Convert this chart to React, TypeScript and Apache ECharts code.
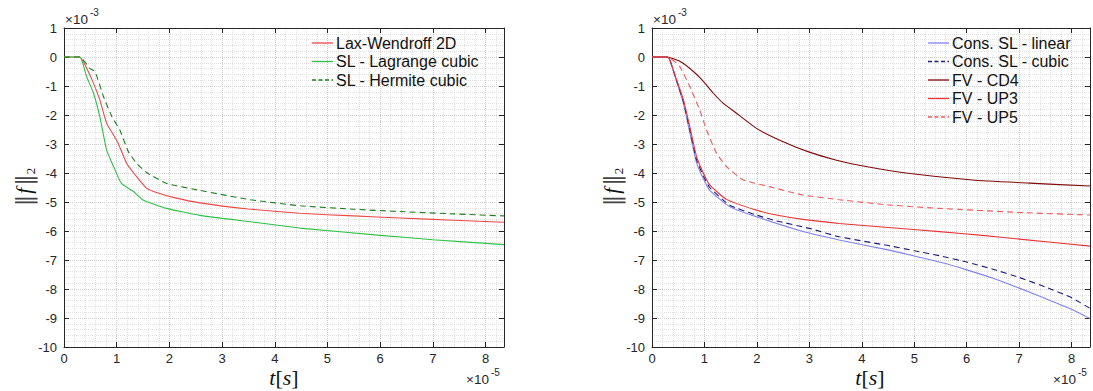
import React, { useEffect, useRef } from 'react';
import * as echarts from 'echarts';

// x in units of 1e-5 s, y in units of 1e-3
const T_MAX = 8.35;
const Y_MIN = -10;
const Y_MAX = 1;

// Left panel
const lwT = [0, 0.3, 0.4, 0.56, 0.68, 0.81, 0.94, 1.03, 1.19, 1.38, 1.57, 1.8, 2.07, 2.58, 3.5, 4.48, 5.5, 6.38, 7.4, 8.35];
const lwV = [0, 0, -0.28, -0.91, -1.48, -2.29, -2.69, -2.98, -3.67, -4.13, -4.53, -4.7, -4.84, -5.03, -5.24, -5.39, -5.48, -5.55, -5.63, -5.7];

const lagT = [0, 0.3, 0.43, 0.56, 0.68, 0.81, 0.97, 1.09, 1.32, 1.5, 1.95, 2.58, 3.53, 4.48, 6.0, 7.0, 8.35];
const lagV = [0, 0, -0.68, -1.25, -2.06, -3.21, -3.9, -4.36, -4.64, -4.93, -5.22, -5.46, -5.68, -5.9, -6.15, -6.3, -6.47];

const herT = [0, 0.3, 0.49, 0.59, 0.75, 0.91, 1.06, 1.22, 1.38, 1.57, 1.95, 2.58, 3.53, 4.48, 5.5, 6.38, 7.4, 8.35];
const herV = [0, 0, -0.39, -0.51, -1.37, -2.06, -2.52, -3.26, -3.67, -3.99, -4.36, -4.6, -4.92, -5.13, -5.25, -5.33, -5.41, -5.48];

// Right panel
const cslT = [0, 0.3, 0.34, 0.47, 0.6, 0.72, 0.85, 0.98, 1.1, 1.48, 1.99, 2.88, 3.57, 4.5, 5.0, 5.5, 6.0, 6.5, 7.0, 7.5, 8.0, 8.35];
const cslV = [0, 0, -0.1, -0.85, -1.6, -2.6, -3.65, -4.2, -4.6, -5.16, -5.51, -6.02, -6.31, -6.65, -6.86, -7.08, -7.34, -7.63, -7.97, -8.33, -8.7, -9.02];

const cscT = [0, 0.3, 0.34, 0.47, 0.6, 0.72, 0.85, 0.98, 1.1, 1.48, 1.99, 2.37, 3.0, 3.57, 4.5, 5.0, 5.5, 6.0, 6.5, 7.0, 7.5, 8.0, 8.35];
const cscV = [0, 0, -0.1, -0.82, -1.55, -2.5, -3.55, -4.1, -4.5, -5.11, -5.45, -5.65, -5.91, -6.2, -6.5, -6.68, -6.86, -7.07, -7.32, -7.6, -7.93, -8.3, -8.67];

const cd4T = [0, 0.28, 0.53, 0.79, 0.98, 1.17, 1.36, 1.61, 2.0, 2.5, 3.0, 3.5, 4.0, 4.84, 6.11, 7.2, 8.35];
const cd4V = [0, 0, -0.15, -0.5, -0.84, -1.25, -1.6, -1.94, -2.47, -2.92, -3.28, -3.55, -3.75, -4.0, -4.24, -4.35, -4.45];

const up3T = [0, 0.3, 0.34, 0.47, 0.6, 0.72, 0.85, 0.98, 1.1, 1.42, 1.99, 2.37, 2.88, 3.57, 4.5, 5.48, 6.3, 7.0, 8.35];
const up3V = [0, 0, -0.1, -0.79, -1.48, -2.4, -3.44, -4.01, -4.41, -4.91, -5.28, -5.45, -5.6, -5.74, -5.88, -6.02, -6.15, -6.28, -6.52];

const up5T = [0, 0.3, 0.53, 0.72, 0.91, 1.04, 1.23, 1.42, 1.74, 2.24, 2.88, 3.57, 4.5, 5.48, 7.0, 8.35];
const up5V = [0, 0, -0.33, -1.02, -1.83, -2.52, -3.32, -3.78, -4.24, -4.47, -4.76, -4.92, -5.1, -5.22, -5.36, -5.45];

const leftNames = ['Lax-Wendroff 2D', 'SL - Lagrange cubic', 'SL - Hermite cubic'];
const rightNames = ['Cons. SL - linear', 'Cons. SL - cubic', 'FV - CD4', 'FV - UP3', 'FV - UP5'];

const AX = '#262626';
const SANS = '"Liberation Sans", Arial, Helvetica, sans-serif';
const SERIF = '"Liberation Serif", "DejaVu Serif", serif';
const DASH = [6, 4];

const pair = (t: number[], v: number[]) => t.map((x, i) => [x, v[i]]);

const majorGrid = { show: true, lineStyle: { color: '#cfcfcf', type: 'dotted', width: 1 } };
const minorGrid = { show: true, lineStyle: { color: '#e2e2e2', type: 'dotted', width: 1 } };

function xAxis(gridIndex: number, position: 'bottom' | 'top') {
  const main = position === 'bottom';
  return {
    type: 'value',
    gridIndex,
    position,
    min: 0,
    max: T_MAX,
    interval: 1,
    axisLine: { show: true, onZero: false, lineStyle: { color: AX, width: 1 } },
    axisTick: { show: true, inside: true, length: 5, lineStyle: { color: AX } },
    axisLabel: {
      show: main,
      margin: 5,
      color: AX,
      fontSize: 13,
      fontFamily: SANS,
      formatter: (v: number) => (Math.abs(v - Math.round(v)) < 1e-9 ? String(Math.round(v)) : ''),
    },
    splitLine: main ? majorGrid : { show: false },
    minorTick: { show: false, splitNumber: 5 },
    minorSplitLine: main ? minorGrid : { show: false },
  };
}

function yAxis(gridIndex: number, position: 'left' | 'right') {
  const main = position === 'left';
  return {
    type: 'value',
    gridIndex,
    position,
    min: Y_MIN,
    max: Y_MAX,
    interval: 1,
    axisLine: { show: true, onZero: false, lineStyle: { color: AX, width: 1 } },
    axisTick: { show: true, inside: true, length: 5, lineStyle: { color: AX } },
    axisLabel: { show: main, margin: 7, color: AX, fontSize: 13, fontFamily: SANS },
    splitLine: main ? majorGrid : { show: false },
    minorTick: { show: false, splitNumber: 5 },
    minorSplitLine: main ? minorGrid : { show: false },
  };
}

const styles: Record<string, { color: string; dashed: boolean }> = {
  'Lax-Wendroff 2D': { color: '#ee4848', dashed: false },
  'SL - Lagrange cubic': { color: '#2fbf4a', dashed: false },
  'SL - Hermite cubic': { color: '#1e7d1e', dashed: true },
  'Cons. SL - linear': { color: '#8080f0', dashed: false },
  'Cons. SL - cubic': { color: '#1c1c7c', dashed: true },
  'FV - CD4': { color: '#7f0a0a', dashed: false },
  'FV - UP3': { color: '#e83434', dashed: false },
  'FV - UP5': { color: '#f05a5a', dashed: true },
};

function line(name: string, t: number[], v: number[], axisIdx: number) {
  const s = styles[name];
  return {
    type: 'line',
    name,
    xAxisIndex: axisIdx,
    yAxisIndex: axisIdx,
    data: pair(t, v),
    symbol: 'none',
    smooth: 0.15,
    lineStyle: { color: s.color, width: 1.1, type: s.dashed ? DASH : 'solid' },
    itemStyle: { color: s.color },
    z: 3,
  };
}

function legendGraphic(names: string[], x0: number, y0: number) {
  const els: any[] = [];
  names.forEach((n, i) => {
    const s = styles[n];
    const y = y0 + i * 18.5;
    els.push({
      type: 'line',
      shape: { x1: x0, y1: y, x2: x0 + 21, y2: y },
      style: { stroke: s.color, lineWidth: 1.3, lineDash: s.dashed ? [4, 2.5] : null },
      z: 10,
    });
    els.push({
      type: 'text',
      x: x0 + 24,
      y,
      style: { text: n, fontSize: 16, fontFamily: SANS, fill: '#111', verticalAlign: 'middle', align: 'left' },
      z: 10,
    });
  });
  return els;
}

function multiplier(x: number, y: number, exp: string) {
  return [
    { type: 'text', left: x, top: y - 8, style: { text: '×10', fontSize: 13.5, fontFamily: SANS, fill: AX } },
    { type: 'text', left: x + 25, top: y - 13, style: { text: exp, fontSize: 10, fontFamily: SANS, fill: AX } },
  ];
}

function yLabel(x: number, y: number) {
  return {
    type: 'text',
    x,
    y,
    rotation: Math.PI / 2,
    style: {
      text: '{n|‖}{f|f}{n|‖}{s|2}',
      align: 'center',
      verticalAlign: 'middle',
      fill: '#111',
      rich: {
        n: { fontSize: 23, fontFamily: '"DejaVu Serif", serif', fill: '#444', lineHeight: 26, verticalAlign: 'middle' },
        f: { fontSize: 21, fontFamily: SERIF, fontStyle: 'italic', fill: '#111', lineHeight: 26, verticalAlign: 'middle', padding: [0, 2, 0, 1] },
        s: { fontSize: 13, fontFamily: SERIF, fill: '#111', lineHeight: 13, verticalAlign: 'bottom' },
      },
    },
  };
}

function xLabel(x: number, y: number) {
  return {
    type: 'text',
    x,
    y,
    style: {
      text: '{i|t}{b|[}{i|s}{b|]}',
      align: 'center',
      verticalAlign: 'middle',
      fill: '#111',
      rich: {
        i: { fontSize: 22, fontFamily: SERIF, fontStyle: 'italic', fill: '#111' },
        b: { fontSize: 22, fontFamily: SERIF, fill: '#111' },
      },
    },
  };
}

const option = {
  animation: false,
  backgroundColor: '#ffffff',
  grid: [
    { left: 64, top: 28, width: 440, height: 319, containLabel: false },
    { left: 652, top: 28, width: 440, height: 319, containLabel: false },
  ],
  xAxis: [xAxis(0, 'bottom'), xAxis(0, 'top'), xAxis(1, 'bottom'), xAxis(1, 'top')],
  yAxis: [yAxis(0, 'left'), yAxis(0, 'right'), yAxis(1, 'left'), yAxis(1, 'right')],
  series: [
    line('Lax-Wendroff 2D', lwT, lwV, 0),
    line('SL - Lagrange cubic', lagT, lagV, 0),
    line('SL - Hermite cubic', herT, herV, 0),
    line('Cons. SL - linear', cslT, cslV, 2),
    line('Cons. SL - cubic', cscT, cscV, 2),
    line('FV - CD4', cd4T, cd4V, 2),
    line('FV - UP3', up3T, up3V, 2),
    line('FV - UP5', up5T, up5V, 2),
  ],
  graphic: [
    ...legendGraphic(leftNames, 312, 43),
    ...legendGraphic(rightNames, 928, 43),
    ...multiplier(65, 20, '-3'),
    ...multiplier(653, 20, '-3'),
    ...multiplier(466, 380, '-5'),
    ...multiplier(1053, 380, '-5'),
    yLabel(24, 187),
    yLabel(612, 187),
    xLabel(284, 377),
    xLabel(870, 377),
  ],
};

export default function App() {
  const ref = useRef<HTMLDivElement>(null);
  useEffect(() => {
    const chart = echarts.init(ref.current as HTMLDivElement, null, { renderer: 'svg' });
    chart.setOption(option as any);
    return () => chart.dispose();
  }, []);
  return <div ref={ref} style={{ position: 'absolute', left: 0, top: 0, width: 1093, height: 391 }} />;
}
